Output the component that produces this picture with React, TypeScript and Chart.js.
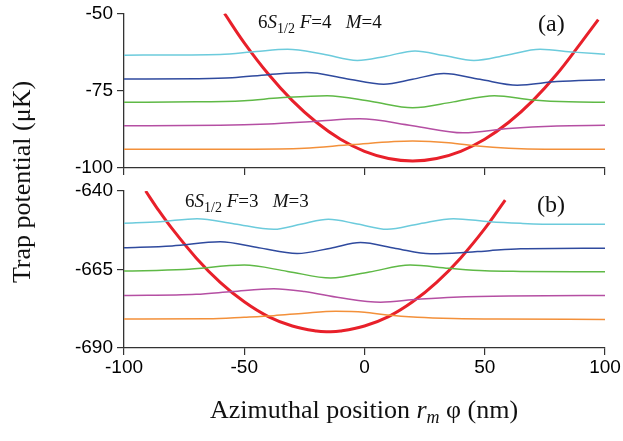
import React, { useEffect, useRef } from 'react';
import { Chart, registerables } from 'chart.js';
Chart.register(...registerables);

// ---------- shared axis data ----------
const xTicks = [-100, -50, 0, 50, 100];
const topYTicks = [-100, -75, -50];
const botYTicks = [-690, -665, -640];

// ---------- panel (a): 6S1/2 F=4 M=4 ----------
const aCyanX = [-100, -75, -60, -45, -32, -17, -3, 9, 21, 33, 45.5, 59, 73, 87, 100];
const aCyanY = [-63.5, -63.4, -63.3, -62.3, -61.6, -63.2, -65.2, -63.8, -62.1, -63.6, -65.2, -63.5, -61.6, -62.5, -63.2];
const aBlueX = [-100, -70, -55, -40, -24, -8, 8, 20, 33, 48, 63.5, 80, 100];
const aBlueY = [-71.2, -71.1, -70.8, -69.8, -69.1, -71.0, -72.9, -71.3, -69.4, -71.3, -73.2, -72.0, -71.4];
const aGreenX = [-100, -70, -50, -35, -15.5, 3, 20, 37, 54, 70, 85, 100];
const aGreenY = [-78.7, -78.6, -78.2, -77.3, -76.6, -78.5, -80.5, -78.6, -76.6, -78.0, -78.6, -78.7];
const aMagentaX = [-100, -60, -40, -20, -2, 20, 41, 60, 80, 100];
const aMagentaY = [-86.3, -86.2, -85.8, -84.9, -84.1, -86.3, -88.6, -87.2, -86.4, -86.2];
const aOrangeX = [-100, -50, -25, -5, 20, 35, 47, 60, 75, 100];
const aOrangeY = [-93.9, -93.9, -93.6, -92.4, -91.3, -91.8, -92.9, -93.6, -93.9, -93.9];
const aRedX = [-58.2, -50, -40, -30, -20, -10, 0, 10, 20, 30, 40, 50, 60, 70, 80, 90, 97.2];
const aRedY = [-50, -59.5, -69.6, -78.2, -85.2, -90.7, -94.6, -96.9, -97.7, -96.9, -94.6, -90.7, -85.2, -78.2, -69.6, -59.5, -52];

// ---------- panel (b): 6S1/2 F=3 M=3 ----------
const bCyanX = [-100, -85, -69.6, -54, -37.7, -26, -15, -3, 9.4, 23, 37, 52, 65, 80, 100];
const bCyanY = [-650.3, -649.8, -648.8, -650.5, -652.2, -650.5, -649.0, -650.5, -652.2, -650.4, -648.8, -649.8, -650.3, -650.6, -650.6];
const bBlueX = [-100, -80, -60, -44, -28, -14, -1.7, 13, 27.4, 40, 52, 65, 100];
const bBlueY = [-658.1, -657.5, -656.2, -658.1, -659.9, -658.2, -656.4, -658.3, -660.0, -659.7, -659.0, -658.4, -658.2];
const bGreenX = [-100, -75, -50, -32, -14, 2, 19, 35, 50, 65, 100];
const bGreenY = [-665.5, -665.0, -663.6, -665.6, -667.7, -665.8, -663.6, -664.6, -665.4, -665.6, -665.7];
const bMagentaX = [-100, -70, -55, -37.7, -25, -10, 6.7, 22, 37, 60, 100];
const bMagentaY = [-673.3, -672.9, -672.0, -671.1, -672.0, -674.0, -675.4, -674.5, -673.8, -673.4, -673.3];
const bOrangeX = [-100, -65, -50, -37.7, -25, -12, 0, 9.4, 22, 37, 55, 100];
const bOrangeY = [-680.8, -680.7, -680.2, -679.7, -678.9, -678.3, -678.6, -679.5, -680.2, -680.6, -680.8, -680.9];
const bRedX = [-91, -86.2, -80, -70, -60, -50, -40, -30, -20, -15, -10, 0, 10, 20, 30, 40, 50, 58.5];
const bRedY = [-640, -645.5, -652.0, -661.3, -669.1, -675.3, -680.0, -683.0, -684.6, -684.8, -684.6, -683.0, -680.0, -675.3, -669.1, -661.3, -652.0, -642.9];

const COLORS = {
  cyan: '#6ccbdc',
  blue: '#2f4a9e',
  green: '#5fb946',
  magenta: '#b54fa3',
  orange: '#f3903a',
  red: '#e8202a',
};

const pts = (xs: number[], ys: number[]) => xs.map((x, i) => ({ x, y: ys[i] }));

const thin = (data: any, color: string) => ({
  data,
  borderColor: color,
  borderWidth: 1.5,
  pointRadius: 0,
  fill: false,
  cubicInterpolationMode: 'monotone' as const,
});
const thick = (data: any, color: string) => ({
  data,
  borderColor: color,
  borderWidth: 3,
  pointRadius: 0,
  fill: false,
  tension: 0.4,
});

const TICK_FONT = { family: "'Liberation Sans', Arial, sans-serif", size: 19, lineHeight: 1 };

function makeConfig(opts: {
  datasets: any[];
  yMin: number;
  yMax: number;
  yTicks: number[];
  showXLabels: boolean;
  padTop: number;
  padBottom: number;
  xHeight: number;
}): any {
  return {
    type: 'line',
    data: { datasets: opts.datasets },
    options: {
      animation: false,
      responsive: false,
      events: [],
      layout: { padding: { top: opts.padTop, bottom: opts.padBottom, left: 0, right: 45 } },
      plugins: { legend: { display: false }, tooltip: { enabled: false }, title: { display: false } },
      scales: {
        x: {
          type: 'linear',
          min: -100,
          max: 100,
          afterBuildTicks: (s: any) => {
            s.ticks = xTicks.map((v) => ({ value: v }));
          },
          afterFit: (s: any) => {
            s.height = opts.xHeight;
          },
          ticks: {
            display: opts.showXLabels,
            color: '#000',
            font: TICK_FONT,
            padding: 3,
            maxRotation: 0,
            autoSkip: false,
          },
          grid: { drawOnChartArea: false, drawTicks: true, tickLength: 7, color: '#333', lineWidth: 1.2 },
          border: { display: true, color: '#333', width: 1.3 },
        },
        y: {
          type: 'linear',
          min: opts.yMin,
          max: opts.yMax,
          afterBuildTicks: (s: any) => {
            s.ticks = opts.yTicks.map((v) => ({ value: v }));
          },
          afterFit: (s: any) => {
            s.width = 124;
          },
          ticks: {
            color: '#000',
            font: TICK_FONT,
            padding: 4,
            autoSkip: false,
          },
          grid: { drawOnChartArea: false, drawTicks: true, tickLength: 7, color: '#333', lineWidth: 1.2 },
          border: { display: true, color: '#333', width: 1.3 },
        },
      },
    },
  };
}

const serif = "'Liberation Serif', 'Times New Roman', serif";

export default function App() {
  const topRef = useRef<HTMLCanvasElement | null>(null);
  const botRef = useRef<HTMLCanvasElement | null>(null);

  useEffect(() => {
    const top = new Chart(
      topRef.current as HTMLCanvasElement,
      makeConfig({
        datasets: [
          thin(pts(aCyanX, aCyanY), COLORS.cyan),
          thin(pts(aBlueX, aBlueY), COLORS.blue),
          thin(pts(aGreenX, aGreenY), COLORS.green),
          thin(pts(aMagentaX, aMagentaY), COLORS.magenta),
          thin(pts(aOrangeX, aOrangeY), COLORS.orange),
          thick(pts(aRedX, aRedY), COLORS.red),
        ],
        yMin: -100,
        yMax: -50,
        yTicks: topYTicks,
        showXLabels: false,
        padTop: 12,
        padBottom: 9,
        xHeight: 8,
      })
    );
    const bot = new Chart(
      botRef.current as HTMLCanvasElement,
      makeConfig({
        datasets: [
          thin(pts(bCyanX, bCyanY), COLORS.cyan),
          thin(pts(bBlueX, bBlueY), COLORS.blue),
          thin(pts(bGreenX, bGreenY), COLORS.green),
          thin(pts(bMagentaX, bMagentaY), COLORS.magenta),
          thin(pts(bOrangeX, bOrangeY), COLORS.orange),
          thick(pts(bRedX, bRedY), COLORS.red),
        ],
        yMin: -690,
        yMax: -640,
        yTicks: botYTicks,
        showXLabels: true,
        padTop: 16,
        padBottom: 53,
        xHeight: 40,
      })
    );
    return () => {
      top.destroy();
      bot.destroy();
    };
  }, []);

  const annStyle: React.CSSProperties = {
    position: 'absolute',
    fontFamily: serif,
    fontSize: 19,
    lineHeight: '22px',
    whiteSpace: 'pre',
    color: '#111',
  };
  const subStyle: React.CSSProperties = { fontSize: 14, position: 'relative', top: 5, verticalAlign: 'baseline' };

  return (
    <div
      style={{
        position: 'absolute',
        left: 0,
        top: 0,
        width: 623,
        height: 441,
        overflow: 'hidden',
        background: '#fff',
      }}
    >
      <canvas ref={topRef} width={650} height={185} style={{ position: 'absolute', left: 0, top: 0, width: 650, height: 185 }} />
      <canvas ref={botRef} width={650} height={266} style={{ position: 'absolute', left: 0, top: 175, width: 650, height: 266 }} />

      <div style={{ ...annStyle, left: 258, top: 10.5 }}>
        6<i>S</i>
        <span style={subStyle}>1/2</span> <i>F</i>=4{'   '}<i>M</i>=4
      </div>
      <div style={{ ...annStyle, left: 185, top: 190 }}>
        6<i>S</i>
        <span style={subStyle}>1/2</span> <i>F</i>=3{'   '}<i>M</i>=3
      </div>
      <div style={{ position: 'absolute', left: 538, top: 8.5, fontFamily: serif, fontSize: 24, lineHeight: '28px', color: '#111' }}>
        (a)
      </div>
      <div style={{ position: 'absolute', left: 537, top: 189.5, fontFamily: serif, fontSize: 24, lineHeight: '28px', color: '#111' }}>
        (b)
      </div>

      <div
        style={{
          position: 'absolute',
          left: 22 - 160,
          top: 182 - 15,
          width: 320,
          height: 30,
          lineHeight: '30px',
          textAlign: 'center',
          fontFamily: serif,
          fontSize: 26,
          whiteSpace: 'nowrap',
          transform: 'rotate(-90deg)',
          transformOrigin: '50% 50%',
          color: '#111',
        }}
      >
        Trap potential (μK)
      </div>
      <div
        style={{
          position: 'absolute',
          left: 64,
          top: 395,
          width: 600,
          height: 30,
          lineHeight: '30px',
          textAlign: 'center',
          fontFamily: serif,
          fontSize: 26,
          whiteSpace: 'nowrap',
          color: '#111',
        }}
      >
        Azimuthal position <i>r</i>
        <i style={{ fontSize: 18, position: 'relative', top: 5 }}>m</i> φ (nm)
      </div>
    </div>
  );
}
